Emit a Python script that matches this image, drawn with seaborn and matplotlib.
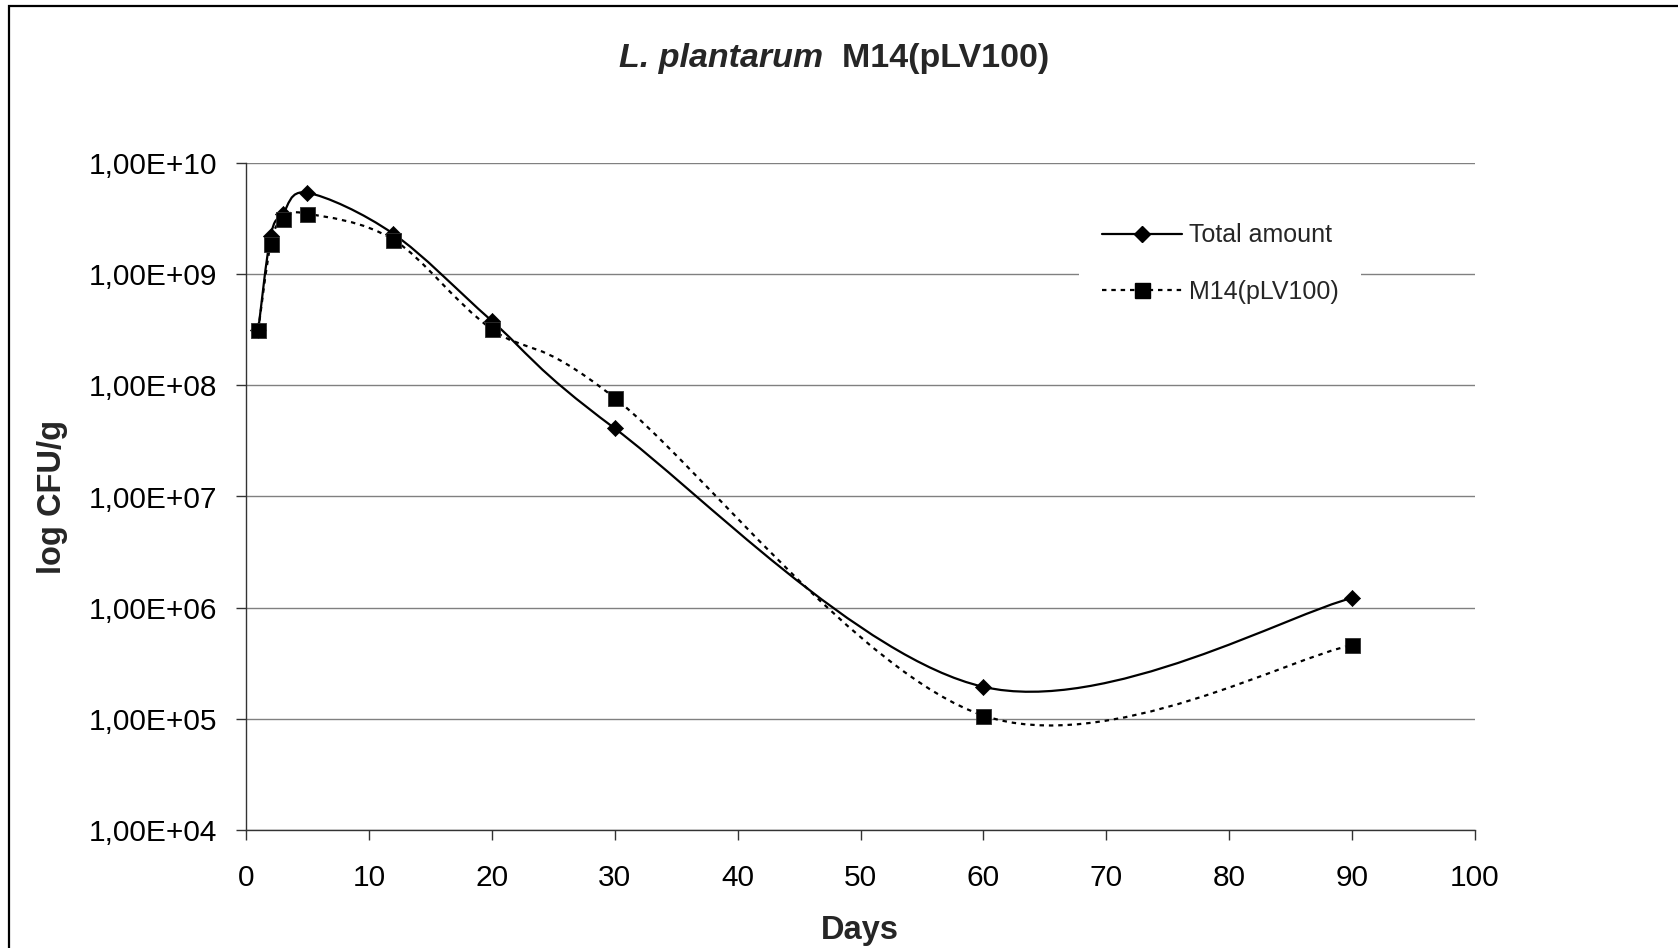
import numpy as np
import matplotlib
matplotlib.use("Agg")
import matplotlib.pyplot as plt
import seaborn as sns
import pandas as pd
from matplotlib.path import Path
from matplotlib.patches import PathPatch, Rectangle
from matplotlib.lines import Line2D
from matplotlib.ticker import FixedLocator, FixedFormatter, NullLocator

# ---- data ----
days = [1, 2, 3, 5, 12, 20, 30, 60, 90]
total_amount = [3.16e8, 2.2e9, 3.5e9, 5.4e9, 2.3e9, 3.8e8, 4.1e7, 1.94e5, 1.22e6]
m14_plv100 = [3.16e8, 1.85e9, 3.16e9, 3.5e9, 2.04e9, 3.2e8, 7.7e7, 1.07e5, 4.6e5]
series_names = ["Total amount", "M14(pLV100)"]
x_ticks = [0, 10, 20, 30, 40, 50, 60, 70, 80, 90, 100]
y_ticks = [1e4, 1e5, 1e6, 1e7, 1e8, 1e9, 1e10]
y_tick_labels = ["1,00E+04", "1,00E+05", "1,00E+06", "1,00E+07",
                 "1,00E+08", "1,00E+09", "1,00E+10"]
title_italic = "L. plantarum"
title_rest = "  M14(pLV100)"
x_label = "Days"
y_label = "log CFU/g"

sns.set_theme(style="white")
plt.rcParams["font.family"] = ["Liberation Sans", "DejaVu Sans"]

W, H = 1678, 948
fig = plt.figure(figsize=(W / 100, H / 100), dpi=100)
ax = fig.add_axes([246 / W, 1 - 830 / H, (1475 - 246) / W, (830 - 163) / H])


def smooth_path(x, y):
    """Excel-like smoothed line (Catmull-Rom Bezier in x / log10(y) space)."""
    lx = np.asarray(x, float)
    ly = np.log10(np.asarray(y, float))
    n = len(lx)
    verts = [(lx[0], ly[0])]
    codes = [Path.MOVETO]
    for i in range(n - 1):
        p0 = i - 1 if i > 0 else i
        p3 = i + 2 if i + 2 < n else i + 1
        c1 = (lx[i] + (lx[i + 1] - lx[p0]) / 6, ly[i] + (ly[i + 1] - ly[p0]) / 6)
        c2 = (lx[i + 1] - (lx[p3] - lx[i]) / 6, ly[i + 1] - (ly[p3] - ly[i]) / 6)
        verts += [c1, c2, (lx[i + 1], ly[i + 1])]
        codes += [Path.CURVE4] * 3
    verts = np.array(verts)
    verts[:, 1] = 10 ** verts[:, 1]
    return Path(verts, codes)


ax.set_yscale("log")
ax.set_xlim(0, 100)
ax.set_ylim(1e4, 1e10)

# smoothed lines
ax.add_patch(PathPatch(smooth_path(days, total_amount), fill=False, ec="black",
                       lw=1.6, zorder=3, capstyle="round"))
ax.add_patch(PathPatch(smooth_path(days, m14_plv100), fill=False, ec="black",
                       lw=1.6, ls=(0, (2, 2.2)), zorder=3))

df = pd.DataFrame({"day": days * 2,
                   "value": total_amount + m14_plv100,
                   "series": [series_names[0]] * len(days) + [series_names[1]] * len(days)})
sns.scatterplot(data=df[df.series == series_names[0]], x="day", y="value",
                marker="D", s=8.2 ** 2, color="black", edgecolor="black",
                linewidth=0.5, ax=ax, zorder=4, legend=False)
sns.scatterplot(data=df[df.series == series_names[1]], x="day", y="value",
                marker="s", s=10.8 ** 2, color="black", edgecolor="#303030",
                linewidth=0.6, ax=ax, zorder=5, legend=False)

# axes styling
ax.xaxis.set_major_locator(FixedLocator(x_ticks))
ax.yaxis.set_major_locator(FixedLocator(y_ticks))
ax.yaxis.set_major_formatter(FixedFormatter(y_tick_labels))
ax.yaxis.set_minor_locator(NullLocator())
ax.grid(True, axis="y", color="#808080", lw=1.0)
ax.grid(False, axis="x")
ax.set_axisbelow(True)
for s in ["top", "right"]:
    ax.spines[s].set_visible(False)
for s in ["left", "bottom"]:
    ax.spines[s].set_color("#333333")
    ax.spines[s].set_linewidth(1.0)
ax.tick_params(axis="both", which="major", direction="out", length=7.5, width=1.0,
               color="#333333", labelsize=21.5, labelcolor="black",
               left=True, bottom=True)
ax.tick_params(axis="y", pad=13)
ax.tick_params(axis="x", pad=17)
ax.set_xlabel("")
ax.set_ylabel("")

fig.text(860 / W, 1 - 930 / H, x_label, ha="center", va="center",
         fontsize=23.5, fontweight="bold")
fig.text(52 / W, 1 - 497 / H, y_label, ha="center", va="center",
         rotation=90, fontsize=23.5, fontweight="bold")

t1 = fig.text(619 / W, 1 - 67 / H, title_italic, ha="left", va="baseline",
              fontsize=24.5, fontweight="bold", style="italic")
ax.annotate(title_rest, xy=(1, 0), xycoords=t1, ha="left", va="bottom",
            fontsize=24.5, fontweight="bold", annotation_clip=False)

# legend
handles = [Line2D([], [], color="black", lw=1.6, marker="D", markersize=8.2),
           Line2D([], [], color="black", lw=1.6, ls=(0, (2, 2.2)), marker="s",
                  markersize=10.8)]
leg = fig.legend(handles, series_names, loc="upper left",
                 bbox_to_anchor=(1079 / W, 1 - 201 / H), bbox_transform=fig.transFigure,
                 frameon=True, facecolor="white", edgecolor="none", framealpha=1,
                 fontsize=18, handlelength=3.2, handletextpad=0.3,
                 labelspacing=1.3, borderpad=0.9, borderaxespad=0, fancybox=False)

# outer chart frame
fig.add_artist(Rectangle((9.0 / W, -0.2), 1.2, 1.2 - 5.5 / H,
                         transform=fig.transFigure, fill=False, ec="black", lw=1.6))

fig.savefig("out.png", dpi=100)
